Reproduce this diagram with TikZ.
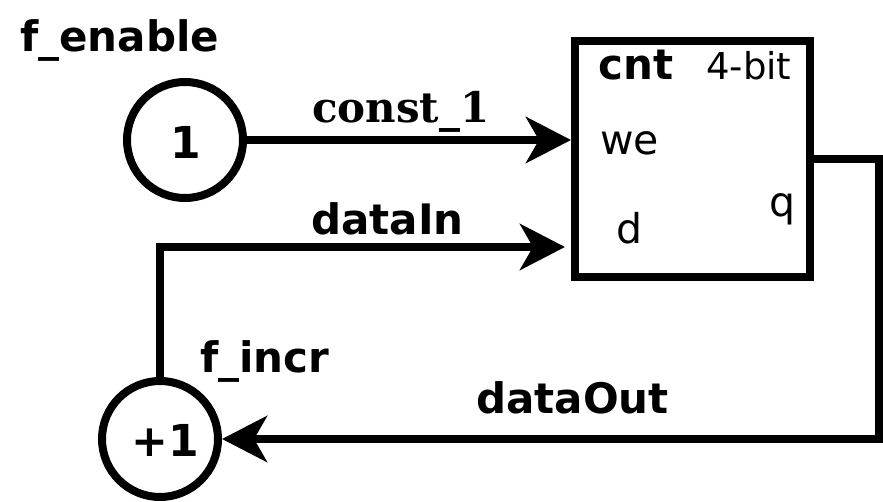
\documentclass[tikz,border=0pt]{standalone}
\usepackage{fontspec}
\usetikzlibrary{arrows.meta}
\newfontfamily\dvs{DejaVu Sans}
\newfontfamily\dvser{DejaVu Serif}
\tikzset{
  wire/.style={line width=8pt},
  arr/.style={-{Stealth[length=45pt,width=46pt,inset=13pt]}},
  gate/.style={circle,draw,line width=8pt,minimum size=116pt,inner sep=0pt},
  reg/.style={rectangle,draw,line width=8pt,minimum width=235pt,minimum height=236pt,inner sep=0pt},
  lbl/.style={inner sep=0pt,anchor=base west,font=\dvs\bfseries\fontsize{42}{48}\selectfont},
  port/.style={inner sep=0pt,anchor=base west,font=\dvs\fontsize{41}{48}\selectfont},
}
\begin{document}
\begin{tikzpicture}[x=1pt,y=-1pt]
\useasboundingbox (0,0) rectangle (883,502);
\node[gate] (c1) at (185,140) {};
\node[inner sep=0pt,anchor=base,font=\dvs\bfseries\fontsize{44}{50}\selectfont] (c1t) at (186,159) {1};
\node[gate] (c2) at (160,439) {};
\node[inner sep=0pt,anchor=base,font=\dvs\bfseries\fontsize{44}{50}\selectfont] (c2t) at (165,456) {+1};
\node[reg] (box) at (692.5,159) {};
\node[lbl] (fen) at (20,52) {f\_enable};
\node[lbl,font=\dvser\bfseries\fontsize{42}{48}\selectfont] (k1) at (312,123) {const\_1};
\node[lbl] (din) at (311,235) {dataIn};
\node[lbl] (finc) at (200,373) {f\_incr};
\node[lbl] (dout) at (476,413) {dataOut};
\node[lbl] (cnt) at (598,80) {cnt};
\node[port,font=\dvs\fontsize{37}{44}\selectfont] (bits) at (706,80) {4-bit};
\node[port] (we) at (600,155) {we};
\node[port] (d) at (616,244) {d};
\node[port] (q) at (769,217) {q};
\coordinate (qcorner) at (879,439);
\draw[wire,arr] (c1.east) -- (c1.east -| box.west);
\draw[wire,arr] (c2.north) |- ([xshift=-6pt,yshift=-88pt]box.west);
\draw[wire,arr] (box.east) -| (qcorner) -- (c2.east);
\end{tikzpicture}
\end{document}
